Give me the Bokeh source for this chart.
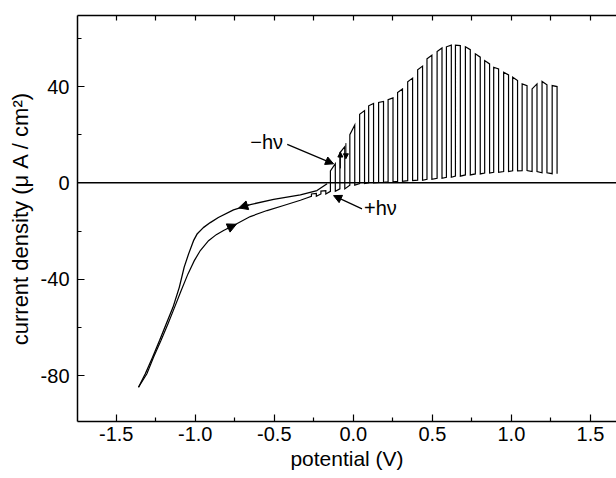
from bokeh.plotting import figure
from bokeh.models import (Range1d, LinearAxis, FixedTicker, PrintfTickFormatter,
                          Span, Arrow, NormalHead, Label)
from bokeh.embed import file_html
from bokeh.resources import INLINE

# ---- data (potential in V, current density in uA/cm2) ----
# dark reverse branch (upper curve in the cathodic region)
upper_v = [-1.359, -1.316, -1.270, -1.226, -1.184, -1.141, -1.101, -1.070, -1.042, -1.011,
           -0.987, -0.949, -0.905, -0.854, -0.758, -0.652, -0.504, -0.335, -0.230, -0.166]
upper_j = [-84.9, -79.3, -72.4, -65.5, -58.6, -51.7, -43.4, -35.0, -29.5, -24.0,
           -21.1, -18.6, -16.5, -14.4, -11.2, -9.0, -6.9, -5.0, -3.2, -0.4]

# forward branch before the chopped part (lower curve)
lower_v = [-1.359, -1.306, -1.264, -1.217, -1.173, -1.131, -1.089, -1.046, -1.006, -0.968,
           -0.916, -0.867, -0.821, -0.758, -0.652, -0.546, -0.441, -0.335, -0.295]
lower_j = [-84.9, -79.3, -72.4, -65.5, -58.6, -51.7, -44.7, -37.8, -32.3, -28.1,
           -24.0, -21.5, -19.8, -17.7, -14.0, -11.5, -9.4, -7.2, -6.3]

# chopped-light part: light switched on at pulse_on, off after pulse_width
pulse_on = [-0.265, -0.205, -0.145, -0.085, -0.022, 0.040, 0.097, 0.160, 0.220, 0.280,
            0.344, 0.407, 0.466, 0.530, 0.589, 0.646, 0.709, 0.772, 0.831, 0.888,
            0.951, 1.008, 1.068, 1.131, 1.194, 1.258]
pulse_width = 0.031
light_start = [-4.6, -3.4, 5.0, 12.5, 20.0, 28.5, 32.0, 33.4, 34.5, 37.5,
               42.0, 47.0, 51.5, 54.5, 56.5, 57.2, 56.5, 53.6, 50.8, 48.0,
               45.9, 43.9, 41.1, 39.0, 42.1, 40.4]
light_end = [-4.4, -3.2, 8.0, 15.0, 24.0, 30.0, 33.0, 33.8, 35.3, 39.0,
             43.5, 48.5, 53.0, 56.0, 57.2, 57.0, 55.3, 52.2, 49.4, 47.3,
             44.8, 42.5, 40.4, 41.1, 40.7, 40.0]
dark = [-5.6, -4.6, -3.5, -2.5, -1.0, -0.3, 0.0, 0.2, 0.4, 0.6,
        0.9, 1.1, 1.5, 1.9, 2.3, 2.8, 3.3, 3.7, 4.1, 4.4,
        4.7, 5.0, 5.1, 4.7, 4.2, 3.8]

# annotation anchors
minus_hv = {"text": "\u2212h\u03bd", "x": -0.652, "y": 17.0,
            "arrow": (-0.418, 16.0, -0.125, 7.9)}
plus_hv = {"text": "+h\u03bd", "x": 0.068, "y": -10.3,
           "arrow": (0.055, -10.8, -0.125, -5.3)}
small_arrows = [(-0.082, 6.0, -0.082, 12.8), (-0.047, 16.5, -0.047, 10.0)]
curve_arrows = [(-0.66, -9.1, -0.725, -10.4), (-0.80, -19.0, -0.74, -17.2)]

x_ticks = [-1.5, -1.0, -0.5, 0.0, 0.5, 1.0, 1.5]
x_minor = [-1.75, -1.25, -0.75, -0.25, 0.25, 0.75, 1.25, 1.75]
y_ticks = [-80, -40, 0, 40]
y_minor = [-100, -60, -20, 20, 60]

# ---- build the chopped trace from the arrays ----
trace_v = list(lower_v)
trace_j = list(lower_j)
for on, ls, le, d in zip(pulse_on, light_start, light_end, dark):
    off = on + pulse_width
    trace_v += [on, on, off, off]
    trace_j += [d, ls, le, d]

FONT = "Liberation Sans"

p = figure(width=616, height=478, output_backend="svg", toolbar_location=None,
           x_range=Range1d(-1.745, 1.665), y_range=Range1d(-99.1, 69.5),
           min_border_left=77, min_border_right=0, min_border_top=15,
           min_border_bottom=57, x_axis_location=None, y_axis_location=None)
p.outline_line_color = None
p.grid.visible = False
p.background_fill_color = "white"
p.border_fill_color = "white"

def style_axis(ax):
    ax.axis_line_color = "black"
    ax.axis_line_width = 1.5
    ax.major_tick_line_color = "black"
    ax.minor_tick_line_color = "black"
    ax.major_tick_line_width = 1.2
    ax.minor_tick_line_width = 1.2
    ax.major_tick_in = 7
    ax.major_tick_out = 0
    ax.minor_tick_in = 4
    ax.minor_tick_out = 0
    ax.major_label_text_font = FONT
    ax.major_label_text_color = "black"
    ax.major_label_text_font_size = "20px"
    ax.axis_label_text_font = FONT
    ax.axis_label_text_font_style = "normal"
    ax.axis_label_text_color = "black"
    ax.axis_label_text_font_size = "21px"

xb = LinearAxis(ticker=FixedTicker(ticks=x_ticks, minor_ticks=x_minor),
                formatter=PrintfTickFormatter(format="%.1f"),
                axis_label="potential (V)")
style_axis(xb)
xb.major_label_standoff = 5
xb.axis_label_standoff = 3
p.add_layout(xb, "below")

# top frame line with small inward ticks only (no labels)
xt = LinearAxis(ticker=FixedTicker(ticks=[], minor_ticks=sorted(x_ticks + x_minor)))
style_axis(xt)
xt.minor_tick_in = 5
xt.major_label_standoff = 0
p.add_layout(xt, "above")

yl = LinearAxis(ticker=FixedTicker(ticks=y_ticks, minor_ticks=y_minor),
                formatter=PrintfTickFormatter(format="%d"),
                axis_label="current density (\u03bc A / cm\u00b2)")
style_axis(yl)
yl.major_label_standoff = 8
yl.axis_label_standoff = 5
yl.axis_label_text_font_size = "22px"
p.add_layout(yl, "left")

p.add_layout(Span(location=0, dimension="width", line_color="black", line_width=1.5))

p.line(upper_v, upper_j, line_color="black", line_width=1.3)
p.line(trace_v, trace_j, line_color="black", line_width=1.2, line_join="miter")

for a in curve_arrows:
    p.add_layout(Arrow(end=NormalHead(size=9, fill_color="black", line_color="black", line_width=1),
                       x_start=a[0], y_start=a[1], x_end=a[2], y_end=a[3],
                       line_color="black", line_width=1.2))
for a in small_arrows:
    p.add_layout(Arrow(end=NormalHead(size=5, fill_color="black", line_color="black", line_width=1),
                       x_start=a[0], y_start=a[1], x_end=a[2], y_end=a[3],
                       line_color="black", line_width=1.0))

for ann in (minus_hv, plus_hv):
    p.add_layout(Label(x=ann["x"], y=ann["y"], text=ann["text"], text_font=FONT,
                       text_font_size="20px", text_baseline="middle", text_align="left",
                       text_color="black"))
    a = ann["arrow"]
    p.add_layout(Arrow(end=NormalHead(size=8, fill_color="black", line_color="black", line_width=1),
                       x_start=a[0], y_start=a[1], x_end=a[2], y_end=a[3],
                       line_color="black", line_width=1.2))

open("out.html", "w").write(file_html(p, INLINE))
